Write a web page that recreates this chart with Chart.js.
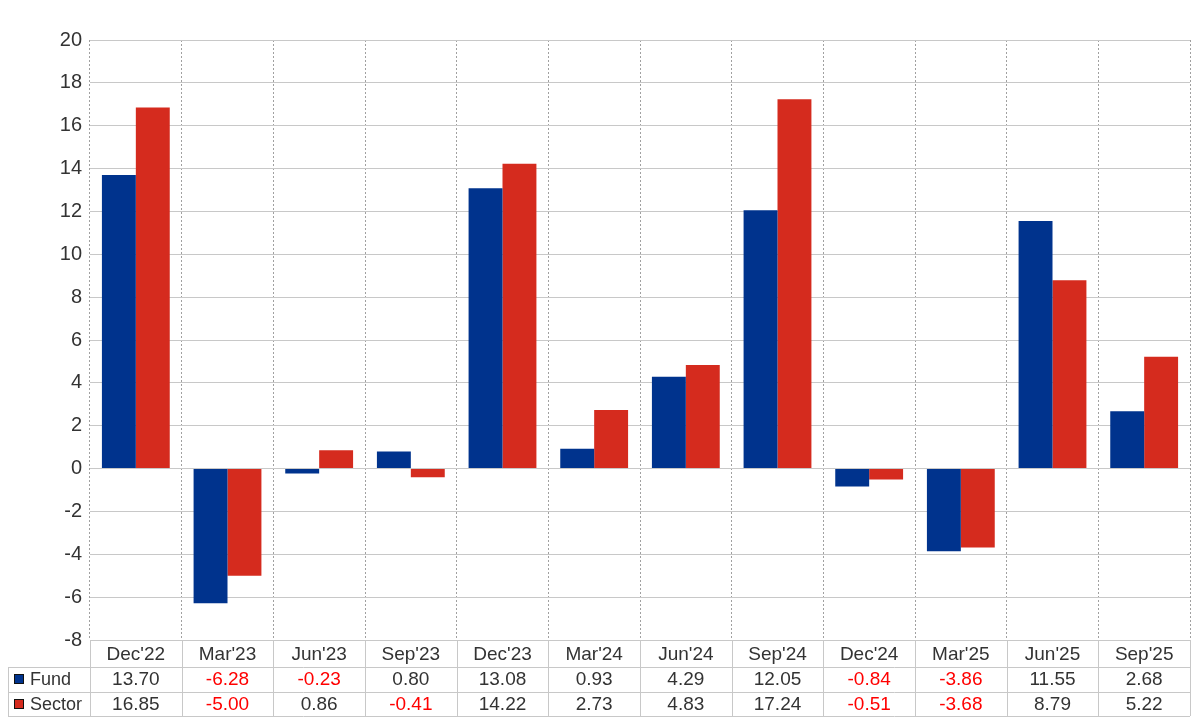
<!DOCTYPE html>
<html><head><meta charset="utf-8">
<script src="https://cdn.jsdelivr.net/npm/chart.js@4"></script>
<style>html,body{margin:0;padding:0;background:#fff}#c{display:block}</style>
</head><body>
<canvas id="c" width="1200" height="720"></canvas>
<script>
const categories = ["Dec'22","Mar'23","Jun'23","Sep'23","Dec'23","Mar'24","Jun'24","Sep'24","Dec'24","Mar'25","Jun'25","Sep'25"];
const fundValues = [13.70,-6.28,-0.23,0.80,13.08,0.93,4.29,12.05,-0.84,-3.86,11.55,2.68];
const sectorValues = [16.85,-5.00,0.86,-0.41,14.22,2.73,4.83,17.24,-0.51,-3.68,8.79,5.22];
const seriesNames = ["Fund","Sector"];
const seriesColors = ["#00338D","#D52B1E"];

const FONT = "Arial, 'Liberation Sans', sans-serif";
const tablePlugin = {
  id: 'dataTable',
  afterDraw(chart) {
    const ctx = chart.ctx, xs = chart.scales.x, area = chart.chartArea;
    const top = area.bottom, r1 = top + 27, r2 = r1 + 24.5, r3 = r2 + 24.5;
    const n = categories.length;
    const w = (area.right - area.left) / n;
    ctx.save();
    ctx.strokeStyle = '#c8c8c8'; ctx.lineWidth = 1;
    ctx.beginPath();
    [r1, r2, r3].forEach(y => { ctx.moveTo(8, Math.round(y)+0.5); ctx.lineTo(area.right, Math.round(y)+0.5); });
    ctx.moveTo(8.5, r1); ctx.lineTo(8.5, r3);
    for (let i = 0; i <= n; i++) {
      const x = Math.round(area.left + i * w) + 0.5;
      ctx.moveTo(x, top); ctx.lineTo(x, r3);
    }
    ctx.stroke();
    ctx.font = '19px ' + FONT; ctx.textAlign = 'center'; ctx.textBaseline = 'middle';
    categories.forEach((c, i) => {
      const x = xs.getPixelForValue(i);
      ctx.fillStyle = '#333';
      ctx.fillText(c, x, (top + r1) / 2 + 1);
      const rows = [fundValues, sectorValues];
      rows.forEach((arr, k) => {
        const v = arr[i];
        ctx.fillStyle = v < 0 ? '#ff0000' : '#333';
        const y = k === 0 ? (r1 + r2) / 2 + 1 : (r2 + r3) / 2 + 1;
        ctx.fillText(v.toFixed(2), x, y);
      });
    });
    ctx.textAlign = 'left';
    ctx.font = '18px ' + FONT;
    seriesNames.forEach((name, k) => {
      const y = k === 0 ? (r1 + r2) / 2 : (r2 + r3) / 2;
      ctx.fillStyle = seriesColors[k];
      ctx.fillRect(14.5, Math.round(y) - 4.5, 9, 9);
      ctx.strokeStyle = '#111';
      ctx.strokeRect(14.5, Math.round(y) - 4.5, 9, 9);
      ctx.fillStyle = '#333';
      ctx.fillText(name, 30, y + 1);
    });
    ctx.restore();
  }
};

new Chart(document.getElementById('c'), {
  type: 'bar',
  data: {
    labels: categories,
    datasets: [
      { label: seriesNames[0], data: fundValues, backgroundColor: seriesColors[0], categoryPercentage: 0.74, barPercentage: 1 },
      { label: seriesNames[1], data: sectorValues, backgroundColor: seriesColors[1], categoryPercentage: 0.74, barPercentage: 1 }
    ]
  },
  options: {
    responsive: false, animation: false,
    layout: { padding: { top: 40, right: 10, bottom: 80, left: 0 } },
    plugins: { legend: { display: false }, tooltip: { enabled: false } },
    scales: {
      x: {
        grid: { offset: true, color: '#a0a0a0', drawTicks: false },
        border: { display: false, dash: [2, 2] },
        ticks: { display: false },
        afterFit(s) { s.height = 0; }
      },
      y: {
        min: -8, max: 20,
        grid: { color: '#c8c8c8', drawTicks: false },
        border: { display: false },
        ticks: { stepSize: 2, padding: 8, color: '#333', font: { family: FONT, size: 20 } },
        afterFit(s) { s.width = 90; }
      }
    }
  },
  plugins: [tablePlugin]
});
</script>
</body></html>
